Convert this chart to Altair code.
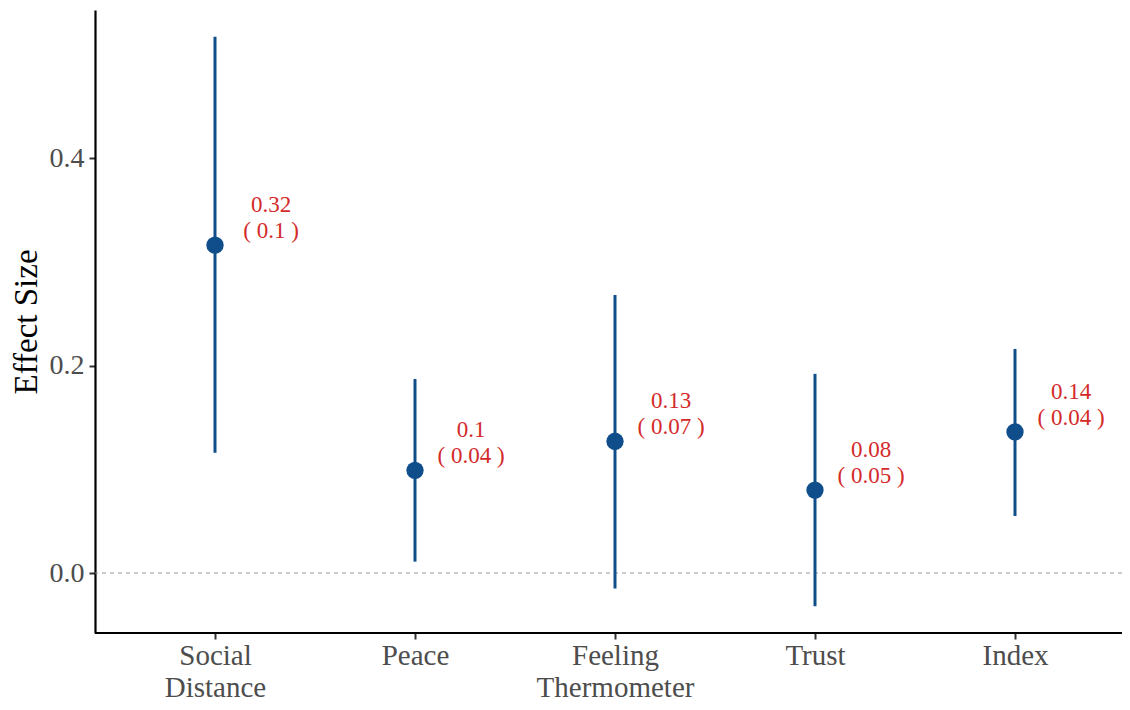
import altair as alt
import pandas as pd

categories = ["Social Distance", "Peace", "Feeling Thermometer", "Trust", "Index"]
estimates = [0.316, 0.099, 0.127, 0.080, 0.136]
ci_low = [0.116, 0.011, -0.015, -0.032, 0.055]
ci_high = [0.517, 0.187, 0.268, 0.192, 0.216]
est_labels = ["0.32", "0.1", "0.13", "0.08", "0.14"]
se_labels = ["0.1", "0.04", "0.07", "0.05", "0.04"]

df = pd.DataFrame({
    "cat": categories,
    "est": estimates,
    "lo": ci_low,
    "hi": ci_high,
    "lab": [f"{e}\n( {s} )" for e, s in zip(est_labels, se_labels)],
})
zero_df = pd.DataFrame({"z": [0.0]})

FONT = "Liberation Serif"
BLUE = "#104E8B"
RED = "#D42A2A"
W, H = 1027, 623

x_enc = alt.X("cat:N", sort=categories, title=None,
              scale=alt.Scale(type="point", range=[120, 920], padding=0),
              axis=alt.Axis(labelExpr="split(datum.label, ' ')", labelAngle=0,
                            labelFont=FONT, labelFontSize=29, labelColor="#4d4d4d",
                            labelLineHeight=32, labelPadding=2,
                            tickSize=6, tickWidth=2, tickColor="#333333",
                            domain=False, grid=False))
y_scale = alt.Scale(domain=[-0.0578, 0.5427], nice=False, zero=False)
y_axis = alt.Axis(values=[0.0, 0.2, 0.4], format=".1f", title="Effect Size",
                  labelFont=FONT, labelFontSize=28, labelColor="#4d4d4d",
                  labelPadding=5, tickSize=6, tickWidth=2, tickColor="#333333",
                  domainColor="black", domainWidth=2.2, grid=False,
                  titleFont=FONT, titleFontSize=33, titleColor="black",
                  titleFontWeight="normal", titlePadding=6)

base = alt.Chart(df)

zero = alt.Chart(zero_df).mark_rule(color="#999999", strokeDash=[4, 4], strokeWidth=1).encode(
    y=alt.Y("z:Q", scale=y_scale, axis=y_axis)
)

xline = alt.Chart(zero_df).mark_rule(color="black", strokeWidth=2.2).encode(
    x=alt.value(0), x2=alt.value(W), y=alt.value(H)
)

bars = base.mark_rule(color=BLUE, strokeWidth=3).encode(
    x=x_enc,
    y=alt.Y("lo:Q", scale=y_scale, axis=y_axis),
    y2="hi:Q",
)

pts = base.mark_circle(color=BLUE, opacity=1, size=300).encode(
    x=x_enc,
    y=alt.Y("est:Q", scale=y_scale, axis=y_axis),
)

txt = base.mark_text(color=RED, font=FONT, fontSize=23, lineBreak="\n", lineHeight=26,
                     dx=56, dy=-40, align="center", baseline="middle").encode(
    x=x_enc,
    y=alt.Y("est:Q", scale=y_scale, axis=y_axis),
    text="lab:N",
)

chart = alt.layer(zero, bars, pts, txt, xline).properties(
    width=W, height=H,
    background="white",
    autosize=alt.AutoSizeParams(type="none"),
    padding={"left": 87, "top": 2, "right": 0, "bottom": 69},
).configure_view(stroke=None)

chart.save("out.html", embed_options={"renderer": "svg", "actions": False})
